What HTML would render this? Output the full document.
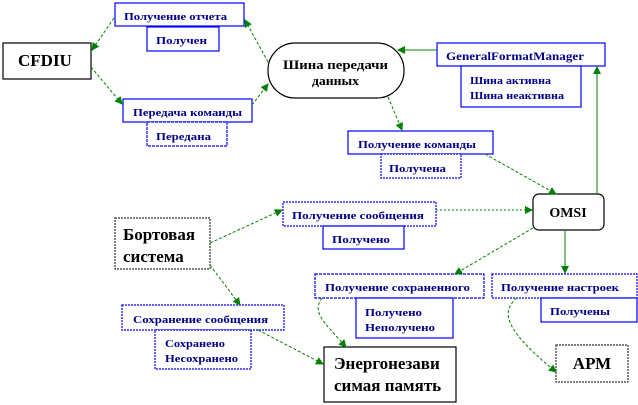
<!DOCTYPE html>
<html><head><meta charset="utf-8"><style>
html,body{margin:0;padding:0;background:#fff}
svg{display:block}
text{font-family:"Liberation Serif","DejaVu Serif",serif;font-weight:bold}
.b{font-size:11px;fill:#00008b}
.k{font-size:17px;fill:#000}
</style></head><body>
<svg width="638" height="405" viewBox="0 0 638 405" xmlns="http://www.w3.org/2000/svg">
<defs>
<marker id="a" markerWidth="8" markerHeight="8" refX="7" refY="4" orient="auto" markerUnits="userSpaceOnUse">
<path d="M0,0 L8,4 L0,8 z" fill="#008000"/></marker>
</defs>
<g fill="#fff" stroke-width="1.2">
<rect x="115" y="3" width="129" height="23" stroke="#0000ff"/>
<rect x="147" y="27" width="72" height="24" stroke="#0000ff"/>
<rect x="123" y="99" width="129" height="23" stroke="#0000ff"/>
<rect x="147" y="122" width="80" height="24" stroke="#0000ff" stroke-dasharray="3,1"/>
<rect x="437" y="43" width="168" height="23" stroke="#0000ff"/>
<rect x="461" y="66" width="120" height="41" stroke="#0000ff"/>
<rect x="348" y="131" width="145" height="23" stroke="#0000ff"/>
<rect x="381" y="154" width="80" height="24" stroke="#0000ff" stroke-dasharray="2,1"/>
<rect x="283" y="202" width="153" height="24" stroke="#0000ff" stroke-dasharray="2,1"/>
<rect x="323" y="226" width="81" height="23" stroke="#0000ff"/>
<rect x="315" y="274" width="169" height="24" stroke="#0000ff" stroke-dasharray="3,1"/>
<rect x="356" y="298" width="97" height="40" stroke="#0000ff"/>
<rect x="492" y="274" width="145" height="24" stroke="#0000ff" stroke-dasharray="2,1"/>
<rect x="541" y="298" width="96" height="24" stroke="#0000ff"/>
<rect x="122" y="305" width="162" height="25" stroke="#0000ff" stroke-dasharray="2,1"/>
<rect x="155" y="330" width="96" height="39" stroke="#0000ff" stroke-dasharray="2,1"/>
<rect x="3" y="43" width="88" height="36" stroke="#000"/>
<rect x="268" y="43" width="136" height="55" rx="27" stroke="#000"/>
<rect x="533" y="194" width="71" height="36" rx="6" stroke="#000"/>
<rect x="115" y="218" width="95" height="51" stroke="#333" stroke-dasharray="2,1"/>
<rect x="324" y="347" width="132" height="55" stroke="#000"/>
<rect x="556" y="345" width="72" height="37" stroke="#333" stroke-dasharray="2,1"/>
</g>
<g stroke="#008000" stroke-width="1" fill="none" stroke-dasharray="3,2" marker-end="url(#a)">
<line x1="114" y1="18" x2="92" y2="50"/>
<line x1="268" y1="62" x2="245" y2="20"/>
<line x1="91" y1="67" x2="122" y2="104"/>
<line x1="252" y1="105" x2="268" y2="84"/>
<line x1="437" y1="50" x2="398" y2="50" stroke-dasharray="none"/>
<line x1="388" y1="97" x2="402" y2="130"/>
<line x1="485" y1="154" x2="556" y2="194"/>
<line x1="597" y1="194" x2="597" y2="67" stroke-dasharray="none"/>
<line x1="210" y1="243" x2="282" y2="210"/>
<line x1="436" y1="210" x2="532" y2="210" stroke-dasharray="2,2"/>
<line x1="533" y1="228" x2="455" y2="274"/>
<line x1="565" y1="230" x2="565" y2="273" stroke-dasharray="none"/>
<line x1="210" y1="265" x2="240" y2="305"/>
<line x1="258" y1="330" x2="323" y2="364"/>
<path d="M322,298 C312,312 322,320 346,347"/>
<path d="M517,298 C500,312 505,330 556,372"/>
</g>
<g class="b">
<text x="124" y="20" textLength="103" lengthAdjust="spacingAndGlyphs">Получение отчета</text>
<text x="156" y="44" textLength="51" lengthAdjust="spacingAndGlyphs">Получен</text>
<text x="133" y="116" textLength="109" lengthAdjust="spacingAndGlyphs">Передача команды</text>
<text x="156" y="140" textLength="55" lengthAdjust="spacingAndGlyphs">Передана</text>
<text x="446" y="60" textLength="138" lengthAdjust="spacingAndGlyphs" font-size="12">GeneralFormatManager</text>
<text x="470" y="84" textLength="81" lengthAdjust="spacingAndGlyphs">Шина активна</text>
<text x="470" y="99" textLength="94" lengthAdjust="spacingAndGlyphs">Шина неактивна</text>
<text x="358" y="148" textLength="118" lengthAdjust="spacingAndGlyphs">Получение команды</text>
<text x="389" y="172" textLength="57" lengthAdjust="spacingAndGlyphs">Получена</text>
<text x="292" y="219" textLength="132" lengthAdjust="spacingAndGlyphs">Получение сообщения</text>
<text x="332" y="243" textLength="58" lengthAdjust="spacingAndGlyphs">Получено</text>
<text x="325" y="291" textLength="145" lengthAdjust="spacingAndGlyphs">Получение сохраненного</text>
<text x="365" y="316" textLength="57" lengthAdjust="spacingAndGlyphs">Получено</text>
<text x="365" y="331" textLength="70" lengthAdjust="spacingAndGlyphs">Неполучено</text>
<text x="501" y="291" textLength="118" lengthAdjust="spacingAndGlyphs">Получение настроек</text>
<text x="550" y="315" textLength="60" lengthAdjust="spacingAndGlyphs">Получены</text>
<text x="133" y="323" textLength="135" lengthAdjust="spacingAndGlyphs">Сохранение сообщения</text>
<text x="165" y="347" textLength="60" lengthAdjust="spacingAndGlyphs">Сохранено</text>
<text x="165" y="362" textLength="73" lengthAdjust="spacingAndGlyphs">Несохранено</text>
</g>
<g class="k">
<text x="18" y="66">CFDIU</text>
<text x="283" y="69" font-size="13" textLength="105" lengthAdjust="spacingAndGlyphs">Шина передачи</text>
<text x="312" y="85" font-size="13" textLength="47" lengthAdjust="spacingAndGlyphs">данных</text>
<text x="568" y="217" font-size="14" text-anchor="middle">OMSI</text>
<text x="123" y="240">Бортовая</text>
<text x="123" y="262">система</text>
<text x="334" y="369">Энергонезави</text>
<text x="334" y="391">симая память</text>
<text x="592" y="369" text-anchor="middle">АРМ</text>
</g>
</svg>
</body></html>
